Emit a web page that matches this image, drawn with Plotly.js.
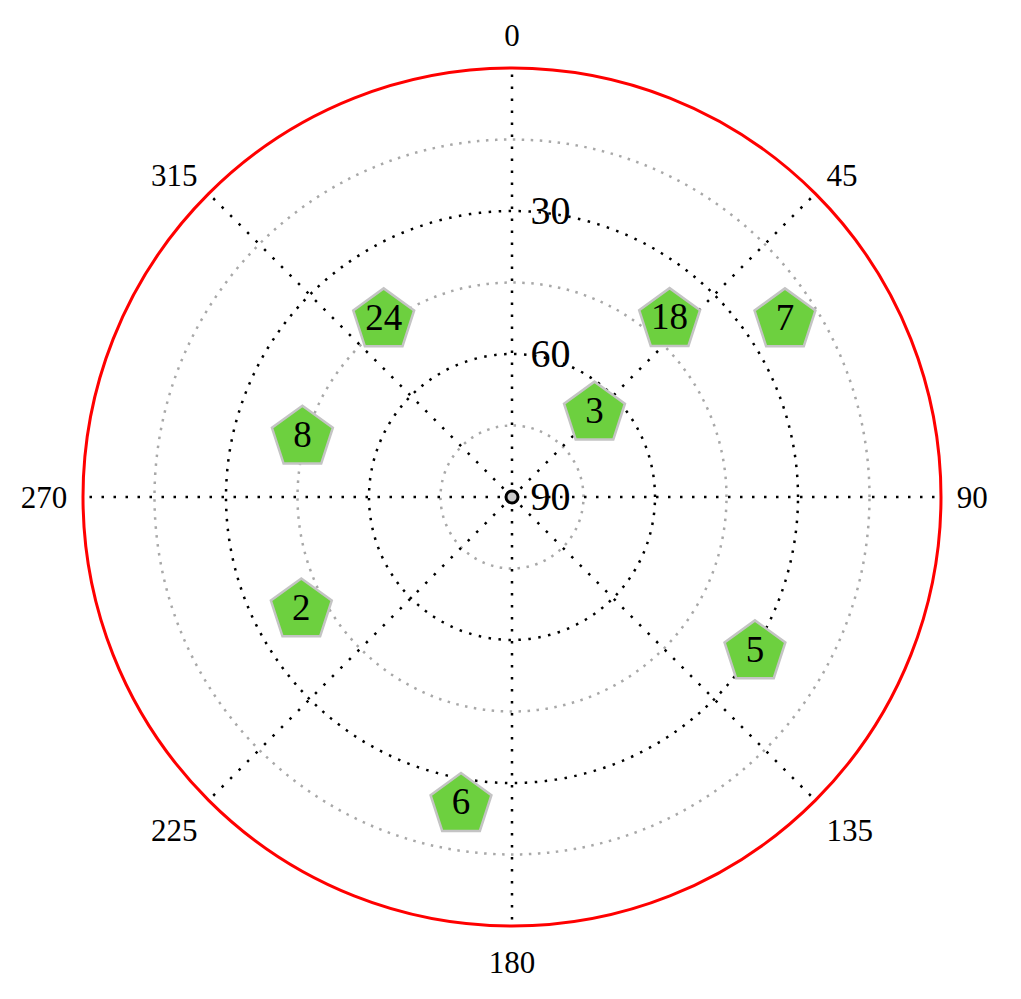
<!DOCTYPE html>
<html>
<head>
<meta charset="utf-8">
<script src="https://cdn.plot.ly/plotly-3.0.1.min.js"></script>
<style>html,body{margin:0;padding:0;background:#fff;}#chart{width:1021px;height:999px;}</style>
</head>
<body>
<div id="chart"></div>
<script>
// Satellite sky plot data (PRN, azimuth in degrees, elevation in degrees)
const prn = ['24', '18', '7', '3', '8', '2', '5', '6'];
const azimuth = [324, 41.7, 57.1, 44.7, 285.8, 241.7, 122.6, 189.4];
const elevation = [44.2, 40.3, 21.8, 65.4, 44.3, 39.8, 29.5, 24.5];
// Receiver at zenith
const receiverAz = [0];
const receiverEl = [90];

const angTicks = [0, 45, 90, 135, 180, 225, 270, 315];
const angTickText = ['0', '45', '90', '135', '180', '225', '270', '315'];
const minorElev = [15, 45, 75];
const majorElev = [30, 60, 90];
const majorElevText = ['30', '60', '90'];

const W = 1021, H = 999;
const cx = 512, cy = 497, R = 429;
const dom = {
  x: [(cx - R) / W, (cx + R) / W],
  y: [(H - cy - R) / H, (H - cy + R) / H]
};

const serif = 'Liberation Serif, Times New Roman, serif';

const traces = [
  {
    // empty trace so the background polar subplot (grey rings, red rim, labels) is drawn
    type: 'scatterpolar',
    subplot: 'polar',
    r: [],
    theta: [],
    mode: 'markers',
    hoverinfo: 'skip',
    showlegend: false
  },
  {
    type: 'scatterpolar',
    subplot: 'polar2',
    r: receiverEl,
    theta: receiverAz,
    mode: 'markers',
    marker: {symbol: 'circle', size: 12, color: '#cccccc', line: {color: '#000', width: 3}},
    hoverinfo: 'skip',
    showlegend: false,
    cliponaxis: false
  },
  {
    type: 'scatterpolar',
    subplot: 'polar2',
    r: elevation,
    theta: azimuth,
    text: prn,
    mode: 'markers+text',
    textposition: 'middle center',
    textfont: {family: serif, size: 37, color: '#000'},
    marker: {symbol: 'pentagon', size: 64, color: '#6dd03f', line: {color: '#c4c4c4', width: 2.5}},
    showlegend: false,
    cliponaxis: false
  }
];

const layout = {
  width: W,
  height: H,
  margin: {l: 0, r: 0, t: 0, b: 0},
  paper_bgcolor: '#fff',
  showlegend: false,
  polar: {
    domain: dom,
    bgcolor: '#fff',
    angularaxis: {
      rotation: 90,
      direction: 'clockwise',
      tickmode: 'array',
      tickvals: angTicks,
      ticktext: angTickText,
      tickfont: {family: serif, size: 31, color: '#000'},
      ticks: 'outside',
      ticklen: 8,
      tickcolor: 'rgba(0,0,0,0)',
      showline: true,
      linecolor: '#ff0000',
      linewidth: 3,
      showgrid: false
    },
    radialaxis: {
      range: [90, 0],
      tickmode: 'array',
      tickvals: minorElev,
      showticklabels: false,
      ticks: '',
      showline: false,
      showgrid: true,
      gridcolor: '#a8a8a8',
      gridwidth: 2.5,
      griddash: '2.5px,6.5px'
    }
  },
  polar2: {
    domain: dom,
    bgcolor: 'rgba(0,0,0,0)',
    angularaxis: {
      rotation: 90,
      direction: 'clockwise',
      tickmode: 'array',
      tickvals: angTicks,
      showticklabels: false,
      ticks: '',
      showline: false,
      showgrid: true,
      gridcolor: '#000',
      gridwidth: 2.5,
      griddash: '2.5px,9.5px'
    },
    radialaxis: {
      range: [90, 0],
      angle: 90,
      side: 'clockwise',
      tickangle: 90,
      tickmode: 'array',
      tickvals: majorElev,
      ticktext: majorElevText,
      tickfont: {family: serif, size: 40, color: '#000'},
      ticks: 'outside',
      ticklen: 10,
      tickcolor: 'rgba(0,0,0,0)',
      showline: false,
      showgrid: true,
      gridcolor: '#000',
      gridwidth: 2.5,
      griddash: '2.5px,7.5px'
    }
  }
};

Plotly.newPlot('chart', traces, layout, {displayModeBar: false, staticPlot: true});
</script>
</body>
</html>
